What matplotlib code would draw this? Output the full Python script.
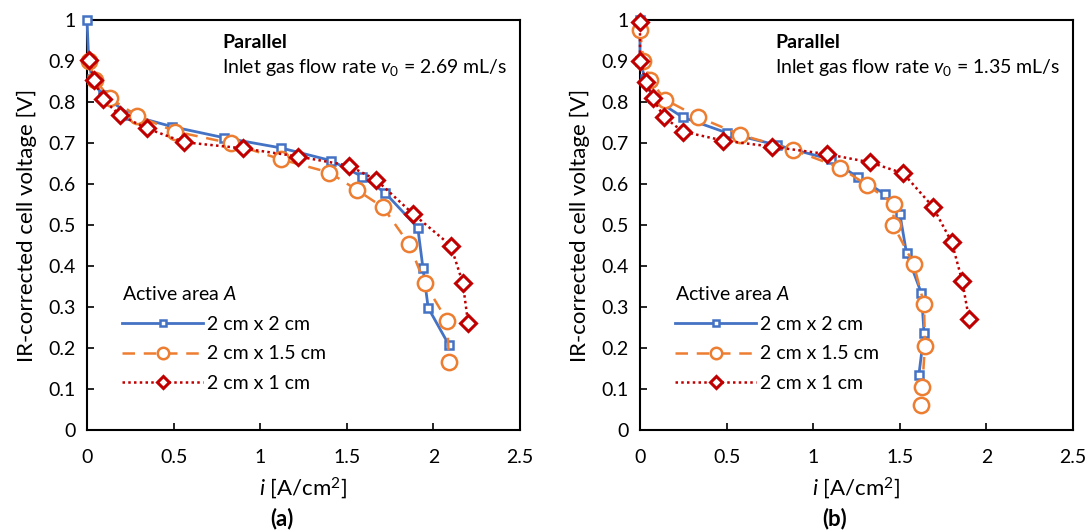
import numpy as np
from matplotlib import pyplot as plt

plt.rcParams['font.family'] = ['Lato', 'DejaVu Sans']
plt.rcParams['mathtext.fontset'] = 'custom'
plt.rcParams['mathtext.rm'] = 'Lato'
plt.rcParams['mathtext.it'] = 'Lato:italic'
plt.rcParams['mathtext.bf'] = 'Lato:bold'

labels = ['2 cm x 2 cm', '2 cm x 1.5 cm', '2 cm x 1 cm']
flow_rates = ['2.69', '1.35']
panel_tags = ['(a)', '(b)']

# panel (a), v0 = 2.69 mL/s
a_i_22 = [0.0, 0.01, 0.03, 0.09, 0.25, 0.49, 0.79, 1.12, 1.41, 1.59, 1.72, 1.91, 1.94, 1.97, 2.09]
a_v_22 = [1.0, 0.90, 0.855, 0.817, 0.768, 0.74, 0.713, 0.688, 0.657, 0.618, 0.579, 0.493, 0.394, 0.298, 0.207]
a_i_215 = [0.01, 0.046, 0.133, 0.29, 0.51, 0.834, 1.12, 1.40, 1.56, 1.71, 1.86, 1.95, 2.08, 2.09]
a_v_215 = [0.90, 0.854, 0.809, 0.766, 0.728, 0.699, 0.66, 0.628, 0.585, 0.543, 0.453, 0.358, 0.266, 0.165]
a_i_21 = [0.013, 0.04, 0.09, 0.19, 0.344, 0.56, 0.90, 1.22, 1.51, 1.67, 1.88, 2.10, 2.17, 2.20]
a_v_21 = [0.902, 0.854, 0.807, 0.768, 0.736, 0.702, 0.687, 0.667, 0.645, 0.61, 0.528, 0.45, 0.358, 0.262]

# panel (b), v0 = 1.35 mL/s
b_i_22 = [0.0, 0.0, 0.03, 0.075, 0.246, 0.50, 0.79, 1.10, 1.26, 1.414, 1.50, 1.539, 1.625, 1.64, 1.61]
b_v_22 = [1.0, 0.90, 0.855, 0.81, 0.763, 0.725, 0.695, 0.66, 0.616, 0.575, 0.528, 0.431, 0.333, 0.236, 0.134]
b_i_215 = [0.0, 0.02, 0.058, 0.144, 0.337, 0.58, 0.885, 1.154, 1.31, 1.466, 1.462, 1.58, 1.64, 1.645, 1.63, 1.62]
b_v_215 = [0.976, 0.90, 0.854, 0.806, 0.763, 0.72, 0.683, 0.64, 0.598, 0.551, 0.50, 0.405, 0.307, 0.206, 0.106, 0.061]
b_i_21 = [0.0, 0.0, 0.035, 0.073, 0.138, 0.246, 0.48, 0.763, 1.077, 1.327, 1.52, 1.69, 1.80, 1.86, 1.90]
b_v_21 = [0.996, 0.90, 0.85, 0.809, 0.764, 0.728, 0.706, 0.691, 0.673, 0.653, 0.626, 0.545, 0.458, 0.364, 0.27]

panels = [
    [(a_i_22, a_v_22), (a_i_215, a_v_215), (a_i_21, a_v_21)],
    [(b_i_22, b_v_22), (b_i_215, b_v_215), (b_i_21, b_v_21)],
]

styles = [
    dict(color='#4472C4', linestyle='-', marker='s', markersize=6, markeredgewidth=1.8, linewidth=2.0),
    dict(color='#ED7D31', linestyle=(0, (5, 3.5)), marker='o', markersize=11, markeredgewidth=1.8, linewidth=1.8),
    dict(color='#C00000', linestyle=(0, (1, 1.3)), marker='D', markersize=8, markeredgewidth=2.2, linewidth=1.8),
]

fig = plt.figure(figsize=(10.91, 5.31), dpi=100)
lefts = [87 / 1091, 640 / 1091]
w = 433 / 1091
bottom = 1 - 430 / 531
h = 410 / 531

for k in range(2):
    ax = fig.add_axes([lefts[k], bottom, w, h])
    for (x, y), st, lab in zip(panels[k], styles, labels):
        ax.plot(x, y, markerfacecolor='white', label=lab, clip_on=False, zorder=3, **st)
    ax.set_xlim(0, 2.5)
    ax.set_ylim(0, 1)
    ax.set_xticks(np.arange(0, 2.51, 0.5))
    ax.set_xticklabels(['0', '0.5', '1', '1.5', '2', '2.5'])
    ax.set_yticks(np.arange(0, 1.01, 0.1))
    ax.set_yticklabels(['0', '0.1', '0.2', '0.3', '0.4', '0.5', '0.6', '0.7', '0.8', '0.9', '1'])
    ax.tick_params(labelsize=14, length=5, width=1.2, direction='in', pad=8)
    ax.tick_params(axis='x', pad=14)
    for s in ax.spines.values():
        s.set_linewidth(1.5)
    ax.set_xlabel('$\\mathit{i}$ [A/cm$^2$]', fontsize=16, labelpad=6)
    ax.set_ylabel('IR-corrected cell voltage [V]', fontsize=16, labelpad=8)
    ax.text(0.312, 0.946, 'Parallel', transform=ax.transAxes, fontsize=14,
            fontweight='bold', va='center', ha='left')
    ax.text(0.312, 0.884, 'Inlet gas flow rate $\\mathit{v}_0$ = ' + flow_rates[k] + ' mL/s',
            transform=ax.transAxes, fontsize=14, va='center', ha='left')
    leg = ax.legend(title='Active area $\\mathit{A}$', loc='lower left', bbox_to_anchor=(0.04, 0.05),
                    frameon=False, fontsize=14, title_fontsize=14, handlelength=4.2,
                    labelspacing=0.65, handletextpad=0.2, markerscale=0.75)
    leg._legend_box.align = 'left'
    ax.text(0.45, -0.215, panel_tags[k], transform=ax.transAxes, fontsize=16,
            fontweight='bold', ha='center', va='center')

plt.savefig('out.png', dpi=100)
